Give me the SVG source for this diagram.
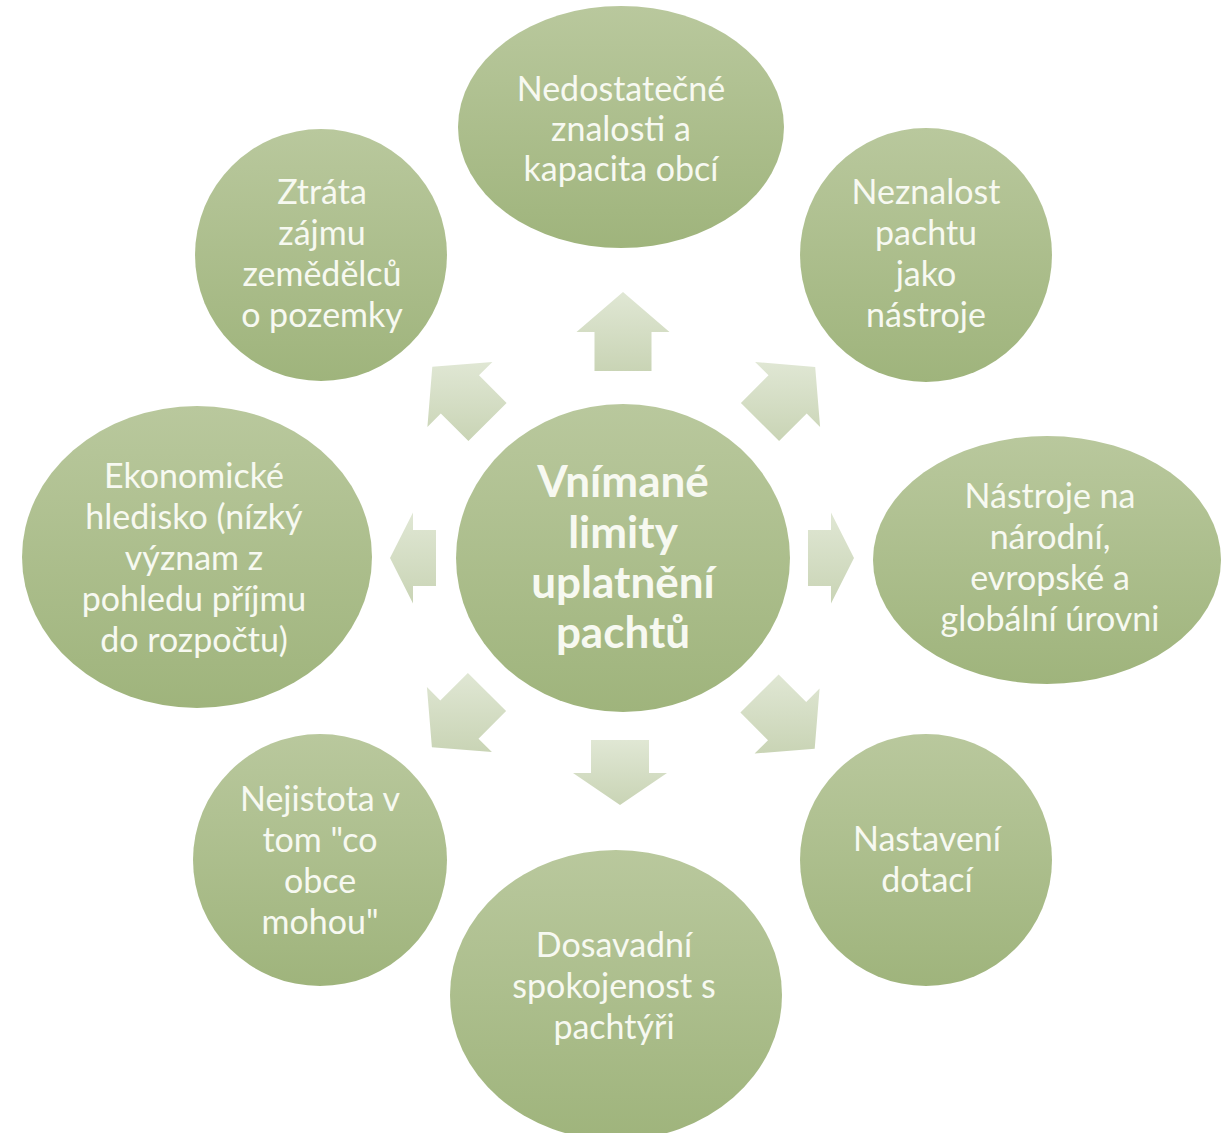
<svg xmlns="http://www.w3.org/2000/svg" width="1221" height="1133" viewBox="0 0 1221 1133">
<defs>
<linearGradient id="gNode" x1="0" y1="0" x2="0" y2="1">
<stop offset="0" stop-color="#b9c89d"/>
<stop offset="1" stop-color="#9fb47c"/>
</linearGradient>
<linearGradient id="gArrow" x1="0" y1="0" x2="0" y2="1">
<stop offset="0" stop-color="#e0e7d4"/>
<stop offset="1" stop-color="#c9d4b5"/>
</linearGradient>
<style>
.node{fill:url(#gNode);}
.arrow{fill:url(#gArrow);}
text{font-family:Lato,"Liberation Sans",sans-serif;fill:#f7f9f1;text-anchor:middle;font-size:34px;}
.hub{font-weight:bold;font-size:44px;}
</style>
</defs>
<rect width="1221" height="1133" fill="#ffffff"/>
<g id="connectors">
<path class="arrow" d="M594.5,371 L594.5,332 L576.5,332 L623,292 L669.5,332 L651.5,332 L651.5,371 Z"/>
<path class="arrow" d="M591,740 L591,773 L573,773 L620,805 L667,773 L649,773 L649,740 Z"/>
<path class="arrow" d="M436,530 L413,530 L413,512.5 L390,558 L413,603.5 L413,586 L436,586 Z"/>
<path class="arrow" d="M808,530 L831,530 L831,512.5 L854,558 L831,603.5 L831,586 L808,586 Z"/>
<path class="arrow" d="M506.6,402.9 L479,375.3 L492.4,361.9 L432.3,366.8 L427.4,426.9 L440.8,413.5 L468.4,441.1 Z"/>
<path class="arrow" d="M779.1,441.1 L806.7,413.5 L820.1,426.9 L815.2,366.9 L755.1,361.9 L768.5,375.3 L740.9,402.9 Z"/>
<path class="arrow" d="M506.1,711.1 L478.5,738.7 L491.9,752.1 L431.9,747.2 L426.9,687.1 L440.3,700.5 L467.9,672.9 Z"/>
<path class="arrow" d="M778.6,674.4 L806.2,702 L819.6,688.6 L814.7,748.7 L754.6,753.6 L768,740.2 L740.4,712.6 Z"/>
</g>
<g id="hub">
<ellipse class="node" cx="623" cy="558" rx="167" ry="154"/>
<text class="hub" x="623" y="497">Vnímané</text>
<text class="hub" x="623" y="548">limity</text>
<text class="hub" x="623" y="598">uplatnění</text>
<text class="hub" x="623" y="648">pachtů</text>
</g>
<g id="n-top">
<ellipse class="node" cx="621" cy="127" rx="163" ry="121"/>
<text x="621" y="101">Nedostatečné</text>
<text x="621" y="141">znalosti a</text>
<text x="621" y="181">kapacita obcí</text>
</g>
<g id="n-topright">
<ellipse class="node" cx="926" cy="255" rx="126" ry="127"/>
<text x="926" y="204">Neznalost</text>
<text x="926" y="245">pachtu</text>
<text x="926" y="286">jako</text>
<text x="926" y="327">nástroje</text>
</g>
<g id="n-right">
<ellipse class="node" cx="1047" cy="560" rx="174" ry="124"/>
<text x="1050" y="508">Nástroje na</text>
<text x="1050" y="549">národní,</text>
<text x="1050" y="590">evropské a</text>
<text x="1050" y="631">globální úrovni</text>
</g>
<g id="n-bottomright">
<ellipse class="node" cx="926" cy="860" rx="126" ry="126"/>
<text x="927" y="851">Nastavení</text>
<text x="927" y="892">dotací</text>
</g>
<g id="n-bottom">
<ellipse class="node" cx="616" cy="995" rx="166" ry="145"/>
<text x="614" y="957">Dosavadní</text>
<text x="614" y="998">spokojenost s</text>
<text x="614" y="1039">pachtýři</text>
</g>
<g id="n-bottomleft">
<ellipse class="node" cx="320" cy="860" rx="127" ry="126"/>
<text x="320" y="811">Nejistota v</text>
<text x="320" y="852">tom "co</text>
<text x="320" y="893">obce</text>
<text x="320" y="934">mohou"</text>
</g>
<g id="n-left">
<ellipse class="node" cx="197" cy="557" rx="175" ry="151"/>
<text x="194" y="488">Ekonomické</text>
<text x="194" y="529">hledisko (nízký</text>
<text x="194" y="570">význam z</text>
<text x="194" y="611">pohledu příjmu</text>
<text x="194" y="652">do rozpočtu)</text>
</g>
<g id="n-topleft">
<ellipse class="node" cx="321" cy="255" rx="126" ry="126"/>
<text x="322" y="204">Ztráta</text>
<text x="322" y="245">zájmu</text>
<text x="322" y="286">zemědělců</text>
<text x="322" y="327">o pozemky</text>
</g>
</svg>
